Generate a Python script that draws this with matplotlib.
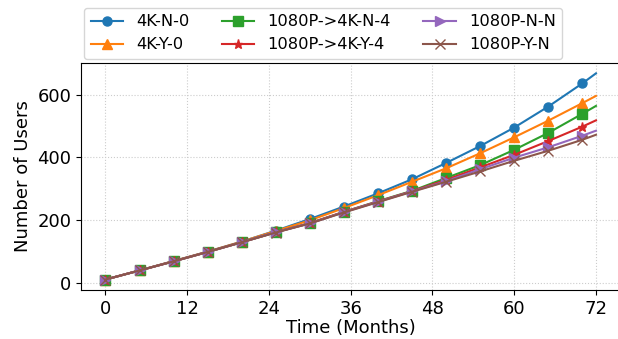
import matplotlib
matplotlib.use("Agg")
import matplotlib.pyplot as plt

months = [0, 5, 10, 15, 20, 25, 30, 35, 40, 45, 50, 55, 60, 65, 70, 72]
s_4k_n_0 = [10, 39, 69, 99, 131, 166, 203, 243, 285, 330, 382, 436, 495, 562, 636, 668]
s_4k_y_0 = [10, 39, 69, 99, 131, 165, 199, 238, 279, 322, 365, 413, 464, 517, 573, 596]
s_1080_4k_n_4 = [10, 39, 68, 98, 129, 161, 190, 226, 260, 293, 334, 375, 424, 478, 539, 564]
s_1080_4k_y_4 = [10, 39, 68, 98, 129, 161, 190, 226, 259, 292, 328, 368, 408, 452, 498, 518]
s_1080_n_n = [10, 39, 68, 98, 129, 161, 189, 225, 258, 291, 324, 362, 399, 432, 469, 485]
s_1080_y_n = [10, 39, 68, 98, 129, 160, 189, 224, 257, 290, 322, 355, 389, 421, 456, 472]

labels = ["4K-N-0", "4K-Y-0", "1080P->4K-N-4", "1080P->4K-Y-4", "1080P-N-N", "1080P-Y-N"]
series = [s_4k_n_0, s_4k_y_0, s_1080_4k_n_4, s_1080_4k_y_4, s_1080_n_n, s_1080_y_n]
markers = ["o", "^", "s", "*", ">", "x"]
xticks = [0, 12, 24, 36, 48, 60, 72]
yticks = [0, 200, 400, 600]

plt.rcParams['font.family'] = ['DejaVu Sans']
fig = plt.figure(figsize=(6.18, 3.39), dpi=100)
ax = fig.add_axes([0.131, 0.145, 0.873, 0.669])

colors = ["#1f77b4", "#ff7f0e", "#2ca02c", "#d62728", "#9467bd", "#8c564b"]
for lab, ys, m, c in zip(labels, series, markers, colors):
    ax.plot(months, ys, marker=m, color=c, label=lab, linewidth=1.5,
            markersize=6.5, markevery=slice(0, len(months) - 1))

ax.set_xticks(xticks)
ax.set_yticks(yticks)
ax.tick_params(labelsize=13)
ax.set_xlabel("Time (Months)", fontsize=13, labelpad=1)
ax.set_ylabel("Number of Users", fontsize=13)
ax.grid(True, linestyle=":", color="#cccccc", linewidth=0.8)
ax.set_axisbelow(True)

fig.legend(loc="upper center", bbox_to_anchor=(0.523, 0.977), ncol=3,
           fontsize=11.7, frameon=True, columnspacing=2.0, handlelength=2.0,
           borderaxespad=0.0)

fig.savefig("out.png", dpi=100)
